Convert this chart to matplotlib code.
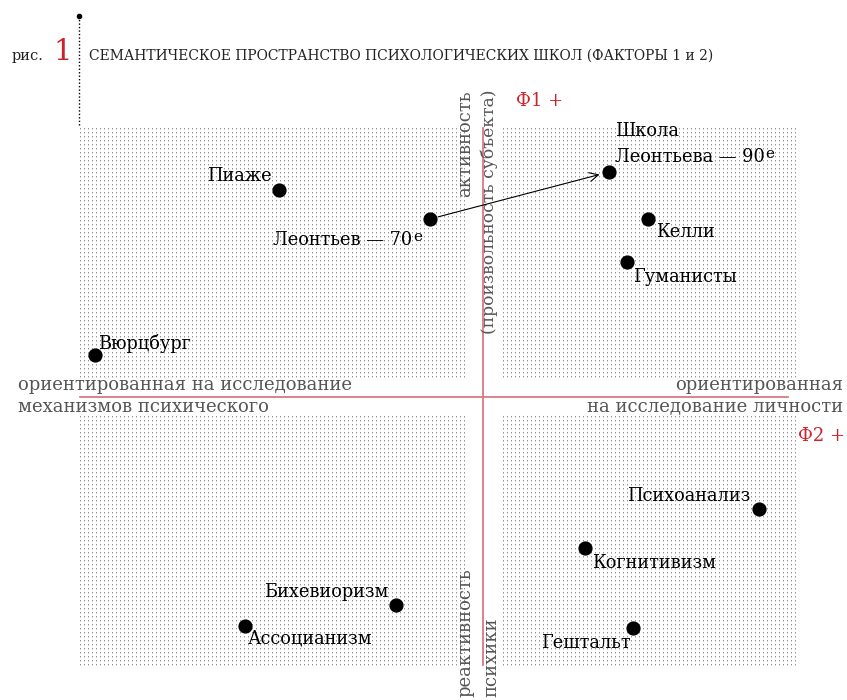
import numpy as np
import matplotlib.pyplot as plt

# положение школ в пространстве факторов (Ф2 — по горизонтали, Ф1 — по вертикали)
schools = ['Пиаже', 'Леонтьев — 70', 'Школа\nЛеонтьева — 90', 'Келли', 'Гуманисты',
           'Вюрцбург', 'Психоанализ', 'Когнитивизм', 'Бихевиоризм', 'Ассоцианизм', 'Гештальт']
f2 = [-2.04, -0.53, 1.26, 1.65, 1.44, -3.88, 2.76, 1.02, -0.87, -2.38, 1.50]
f1 = [2.07, 1.78, 2.25, 1.78, 1.35, 0.42, -1.12, -1.51, -2.08, -2.29, -2.31]
sup = ['', 'е', 'е', '', '', '', '', '', '', '', '']

# смещения подписей (пиксели) и выравнивание
offsets = [(-7, 9, 'right'), (-18, -26, 'right'), (6, 10, 'left'), (8, -18, 'left'),
           (6, -20, 'left'), (3, 6, 'left'), (-9, 8, 'right'), (7, -20, 'left'),
           (-8, 8, 'right'), (3, -17, 'left'), (-2, -20, 'right')]

FONT = 'DejaVu Serif'
GRAY = '#555555'
RED = '#cc2229'
AXRED = '#d67b82'

W, H = 847, 700
fig = plt.figure(figsize=(W / 100, H / 100), dpi=100)
ax = fig.add_axes([0, 0, 1, 1])
ax.set_xlim(-4.83, 3.64)
ax.set_ylim(-3.03, 3.97)
ax.axis('off')

# точечные поля четырёх квадрантов — растр 1px точек с шагом 4px
bg = np.zeros((H, W, 4))
for c0, c1 in [(80, 466), (503, 796)]:
    for r0, r1 in [(128, 379), (416, 666)]:
        for rr in range(r0, r1, 4):
            for cc in range(c0, c1, 4):
                bg[rr, cc] = [0.58, 0.58, 0.58, 1]
                bg[rr + 1, cc] = [0.82, 0.82, 0.82, 1]
fig.figimage(bg, xo=0, yo=0, origin='upper', zorder=-1)

# оси
ax.plot([-4.03, 3.05], [0, 0], color=AXRED, lw=1.3, zorder=2)
ax.plot([0, 0], [2.69, -2.68], color=AXRED, lw=1.3, zorder=2)

# пунктир с точкой слева вверху
ax.plot([-4.04, -4.04], [3.81, 2.71], color='k', lw=1.0, ls=(0, (1, 1.5)), zorder=2)
ax.plot([-4.04], [3.81], 'o', color='k', ms=3, zorder=3)

# заголовок
ax.text(-4.71, 3.37, 'рис.', fontfamily=FONT, fontsize=10.5, color='#222222', va='baseline')
ax.text(-4.30, 3.37, '1', fontfamily=FONT, fontsize=21, color=RED, va='baseline')
ax.text(-3.94, 3.37, 'СЕМАНТИЧЕСКОЕ ПРОСТРАНСТВО ПСИХОЛОГИЧЕСКИХ ШКОЛ (ФАКТОРЫ 1 и 2)',
        fontfamily=FONT, fontsize=10, color='#222222', va='baseline')

# подписи осей
ax.text(-4.65, 0.07, 'ориентированная на исследование', fontfamily=FONT, fontsize=13,
        color=GRAY, va='baseline', ha='left')
ax.text(-4.65, -0.15, 'механизмов психического', fontfamily=FONT, fontsize=13,
        color=GRAY, va='baseline', ha='left')
ax.text(3.60, 0.07, 'ориентированная', fontfamily=FONT, fontsize=13,
        color=GRAY, va='baseline', ha='right')
ax.text(3.60, -0.15, 'на исследование личности', fontfamily=FONT, fontsize=13,
        color=GRAY, va='baseline', ha='right')
ax.text(3.62, -0.44, 'Ф2 +', fontfamily=FONT, fontsize=13, color=RED, va='baseline', ha='right')
ax.text(0.33, 2.91, 'Ф1 +', fontfamily=FONT, fontsize=13, color=RED, va='baseline', ha='left')

ax.text(-0.18, 3.07, 'активность', fontfamily=FONT, fontsize=13, color=GRAY,
        rotation=90, ha='center', va='top')
ax.text(0.06, 3.07, '(произвольность субъекта)', fontfamily=FONT, fontsize=12.3, color=GRAY,
        rotation=90, ha='center', va='top')
ax.text(-0.18, -3.0, 'реактивность', fontfamily=FONT, fontsize=13, color=GRAY,
        rotation=90, ha='center', va='bottom')
ax.text(0.08, -3.0, 'психики', fontfamily=FONT, fontsize=13, color=GRAY,
        rotation=90, ha='center', va='bottom')

# стрелка от Леонтьева-70 к школе Леонтьева-90
ax.annotate('', xy=(f2[2], f1[2]), xytext=(f2[1], f1[1]),
            arrowprops=dict(arrowstyle='->', lw=0.8, color='k', shrinkA=6, shrinkB=7,
                            mutation_scale=16), zorder=3)

# точки
ax.scatter(f2, f1, s=85, color='k', zorder=4)

labels = []
for name, x, y, (dx, dy, ha) in zip(schools, f2, f1, offsets):
    t = ax.annotate(name, (x, y), xytext=(dx, dy), textcoords='offset pixels',
                    ha=ha, va='baseline', fontfamily=FONT, fontsize=12.8, color='k',
                    linespacing=1.55, zorder=5)
    labels.append(t)

fig.canvas.draw()
r = fig.canvas.get_renderer()
inv = ax.transData.inverted()
for t, s in zip(labels, sup):
    if not s:
        continue
    bb = t.get_window_extent(r)
    px, py = inv.transform((bb.x1 + 1, bb.y0 + 5))
    ax.text(px, py, s, fontfamily=FONT, fontsize=11, color='k', ha='left', va='bottom', zorder=5)

fig.savefig('out.png', dpi=100)
